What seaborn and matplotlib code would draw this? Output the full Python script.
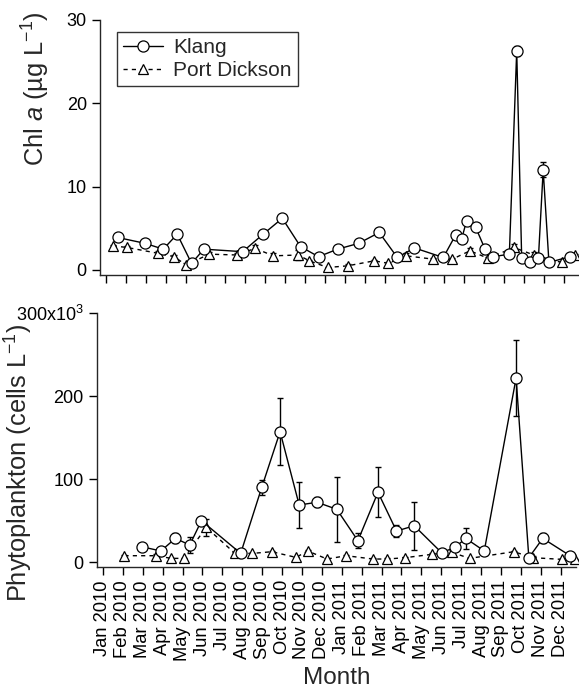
import matplotlib
matplotlib.use("Agg")
import matplotlib.pyplot as plt
import seaborn as sns
import pandas as pd

sns.set_style("ticks")
plt.rcParams.update({
    "font.family": ["Liberation Sans", "DejaVu Sans"],
    "mathtext.fontset": "custom",
    "mathtext.rm": "Liberation Sans",
    "mathtext.it": "Liberation Sans:italic",
    "axes.linewidth": 1.0,
    "xtick.major.width": 1.0,
    "ytick.major.width": 1.0,
    "xtick.major.size": 6,
    "ytick.major.size": 6,
    "xtick.direction": "out",
    "ytick.direction": "out",
})

# month index: 0 = Jan 2010 ... 23 = Dec 2011
month_labels = ["Jan 2010", "Feb 2010", "Mar 2010", "Apr 2010", "May 2010", "Jun 2010",
                "Jul 2010", "Aug 2010", "Sep 2010", "Oct 2010", "Nov 2010", "Dec 2010",
                "Jan 2011", "Feb 2011", "Mar 2011", "Apr 2011", "May 2011", "Jun 2011",
                "Jul 2011", "Aug 2011", "Sep 2011", "Oct 2011", "Nov 2011", "Dec 2011"]

# Chl a -- Klang
chl_klang_t = [0.59, 1.96, 2.88, 3.58, 4.30, 4.92, 6.87, 7.90, 8.86, 9.78, 10.68, 11.64,
               12.70, 13.73, 14.64, 15.50, 16.95, 17.57, 17.87, 18.12, 18.58, 19.05, 19.46,
               20.27, 20.64, 20.89, 21.30, 21.73, 21.97, 22.26, 23.30]
chl_klang = [3.9, 3.2, 2.5, 4.3, 0.8, 2.5, 2.2, 4.3, 6.2, 2.8, 1.6, 2.5,
             3.2, 4.5, 1.5, 2.65, 1.5, 4.2, 3.7, 5.9, 5.1, 2.5, 1.6,
             1.9, 26.3, 1.4, 1.0, 1.4, 12.0, 0.9, 1.6]
chl_klang_err = [0.2, 0.3, 0.2, 0.2, 0.2, 0.1, 0.1, 0.3, 0.1, 0.3, 0.1, 0.1,
                 0.1, 0.1, 0.1, 0.1, 0.1, 0.5, 0.2, 0.1, 0.1, 0.5, 0.1,
                 0.1, 0.6, 0.4, 0.1, 0.2, 0.9, 0.1, 0.1]

# Chl a -- Port Dickson
chl_pd_t = [0.34, 1.07, 2.63, 3.43, 4.02, 5.19, 6.60, 7.49, 8.41, 9.66, 10.22, 11.14,
            12.14, 13.48, 14.19, 15.08, 16.45, 17.40, 18.29, 19.21, 20.50, 21.50, 22.90, 23.57]
chl_pd = [2.9, 2.7, 2.0, 1.6, 0.6, 1.9, 1.8, 2.6, 1.7, 1.8, 1.1, 0.3,
          0.5, 1.1, 0.8, 1.7, 1.3, 1.3, 2.3, 1.4, 2.7, 1.8, 0.9, 1.8]
chl_pd_err = [0.1, 0.2, 0.3, 0.2, 0.2, 0.2, 0.2, 0.4, 0.3, 0.6, 0.1, 0.1,
              0.2, 0.1, 0.2, 0.3, 0.1, 0.1, 0.3, 0.2, 0.4, 0.3, 0.2, 0.1]

# Phytoplankton (x10^3 cells/L) -- Klang
phy_klang_t = [1.95, 2.91, 3.64, 4.36, 4.95, 6.92, 7.98, 8.90, 9.86, 10.76, 11.75, 12.81,
               13.82, 14.75, 15.64, 17.02, 17.69, 18.23, 19.16, 20.76, 21.40, 22.10, 23.47]
phy_klang = [18.4, 13.3, 28.5, 20.5, 49.8, 10.4, 90, 157, 68.7, 72, 63.5, 25.7,
             84, 37.3, 43.7, 11.2, 17.7, 28.5, 13.3, 221.7, 5.2, 28.5, 7.6]
phy_klang_err = [1, 2, 6, 10, 2, 2, 9, 40, 28, 6, 39, 9,
                 30, 7, 29, 2, 3, 13, 2, 46, 2, 6, 2]

# Phytoplankton -- Port Dickson
phy_pd_t = [1.08, 2.66, 3.43, 4.06, 5.19, 6.63, 7.51, 8.48, 9.70, 10.29, 11.26, 12.22,
            13.57, 14.28, 15.17, 16.55, 17.53, 18.42, 20.64, 21.62, 23.05, 23.70]
phy_pd = [7.6, 7.6, 4.4, 4.4, 41.8, 10.4, 10.4, 12.4, 5.6, 13.3, 3.6, 7.6,
          3.6, 3.6, 5.2, 9.3, 11.7, 4.4, 12.4, 5.2, 3.2, 3.2]
phy_pd_err = [1, 2, 1, 1, 10, 2, 1, 1, 1, 1, 1, 1,
              1, 1, 1, 1, 3, 1, 1, 2, 1, 1]

W, H = 579, 688
fig = plt.figure(figsize=(W / 100, H / 100), dpi=100)
ax1 = fig.add_axes([100 / W, 1 - 275 / H, 479 / W, 255 / H])
ax2 = fig.add_axes([97 / W, 1 - 567 / H, 479 / W, 254 / H])

mk = dict(markerfacecolor="white", markeredgecolor="black", markeredgewidth=0.9,
          color="black", linewidth=1.0, clip_on=False)


def draw(ax, t1, v1, e1, t2, v2, e2):
    d1 = pd.DataFrame({"t": t1, "v": v1})
    d2 = pd.DataFrame({"t": t2, "v": v2})
    ax.errorbar(t1, v1, yerr=e1, fmt="none", ecolor="black", elinewidth=1.0,
                capsize=2.5, capthick=1.0, zorder=2, clip_on=False)
    ax.errorbar(t2, v2, yerr=e2, fmt="none", ecolor="black", elinewidth=1.0,
                capsize=2.5, capthick=1.0, zorder=2, clip_on=False)
    sns.lineplot(data=d2, x="t", y="v", ax=ax, marker="^", markersize=7.5,
                 linestyle=(0, (3, 3)), label="Port Dickson", zorder=3, **mk)
    sns.lineplot(data=d1, x="t", y="v", ax=ax, marker="o", markersize=8,
                 linestyle="-", label="Klang", zorder=4, **mk)


draw(ax1, chl_klang_t, chl_klang, chl_klang_err, chl_pd_t, chl_pd, chl_pd_err)
draw(ax2, phy_klang_t, phy_klang, phy_klang_err, phy_pd_t, phy_pd, phy_pd_err)

for ax in (ax1, ax2):
    ax.set_xlim(-0.3, 23.77)
    ax.set_xticks(range(24))
    sns.despine(ax=ax)
    ax.tick_params(labelsize=13, color="black", labelcolor="black")
    ax.grid(False)

ax1.set_ylim(-0.6, 30)
ax1.set_yticks([0, 10, 20, 30])
ax1.set_xticklabels([])
ax1.set_xlabel("")
ax1.set_ylabel(r"Chl $\mathit{a}$ (µg L$^{-1}$)", fontsize=18.3)
ax1.yaxis.set_label_coords(-0.1, 0.73)

ax2.set_ylim(-6, 300)
ax2.set_yticks([0, 100, 200, 300])
ax2.set_yticklabels(["0", "100", "200", r"300x10$^3$"])
ax2.set_xticklabels(month_labels, rotation=90, fontsize=13.2)
ax2.set_xlabel("Month", fontsize=17.5)
ax2.xaxis.set_label_coords(0.5, -0.392)
ax2.set_ylabel(r"Phytoplankton (cells L$^{-1}$)", fontsize=18.3)
ax2.yaxis.set_label_coords(-0.129, 0.41)
ax2.get_legend().remove()

h, l = ax1.get_legend_handles_labels()
order = [l.index("Klang"), l.index("Port Dickson")]
leg = ax1.legend([h[i] for i in order], [l[i] for i in order], loc="upper left",
                 bbox_to_anchor=(0.035, 0.954), borderaxespad=0, fontsize=15,
                 frameon=True, fancybox=False, edgecolor="black", handlelength=1.9,
                 handletextpad=0.5, borderpad=0.3, labelspacing=0.2)
leg.get_frame().set_linewidth(1.0)

fig.savefig("out.png", dpi=100)
